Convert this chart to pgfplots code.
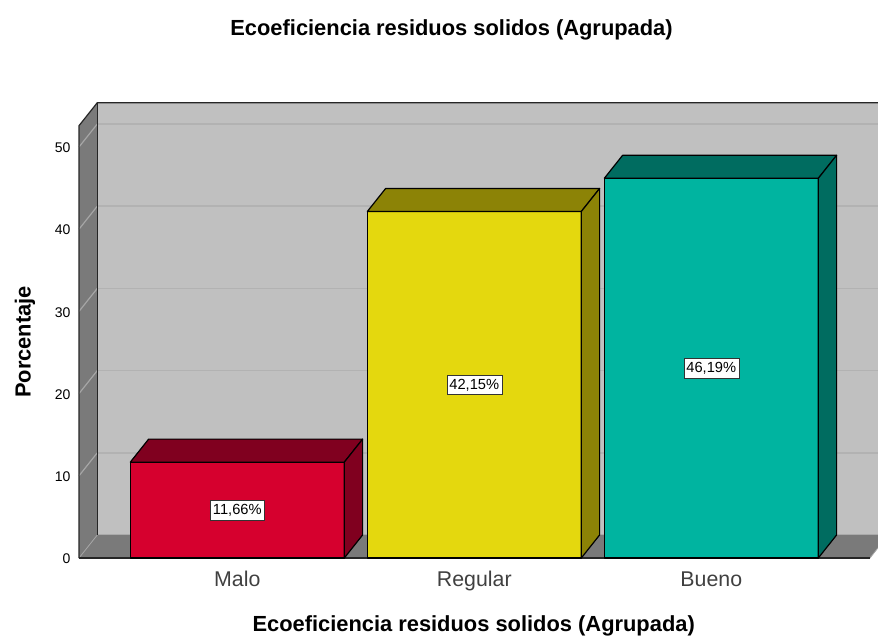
\documentclass[border=0pt]{standalone}
\usepackage{fontspec}
\setmainfont{Liberation Sans}
\usepackage{pgfplots}
\pgfplotsset{compat=1.18}
\usetikzlibrary{shadows}
\definecolor{wallc}{HTML}{C0C0C0}
\definecolor{sidec}{HTML}{7A7A7A}
\definecolor{gridb}{HTML}{B2B2B2}
\definecolor{grids}{HTML}{A6A6A6}
\definecolor{redf}{HTML}{D6002E}
\definecolor{redd}{HTML}{80001F}
\definecolor{yelf}{HTML}{E4D80E}
\definecolor{yeld}{HTML}{8C8306}
\definecolor{teaf}{HTML}{00B4A0}
\definecolor{tead}{HTML}{006C60}
\tikzset{lab/.style={draw=black!80,fill=white,inner xsep=2pt,inner ysep=2.6pt,text height=8pt,text depth=1.6pt,font=\fontsize{11}{13}\selectfont,
  copy shadow={shadow xshift=.6pt,shadow yshift=-.6pt,draw=none,fill=black!55}}}
\pgfplotsset{face/.style={draw=black,line width=.9pt,line join=round}}
\begin{document}
\begin{tikzpicture}
\path[use as bounding box] (-59.25pt,-58.5pt) rectangle (599.25pt,418.5pt);
\begin{axis}[
  scale only axis, width=599.25pt, height=341.48pt,
  xmin=79, xmax=878, ymin=0, ymax=55.39,
  clip=false,
  axis lines=left,
  axis line style={draw=none,-},
  tick style={draw=none},
  major tick length=0pt,
  xtick={237.3,474.3,711.3},
  xticklabels={Malo,Regular,Bueno},
  x tick label style={font=\fontsize{16}{18}\selectfont,text=black!75,text height=11.6pt,text depth=3.4pt,yshift=-6.5pt},
  ytick={0,10,20,30,40,50},
  y tick label style={font=\fontsize{10.5}{12}\selectfont,xshift=-2.9pt,yshift=-.7pt},
  /pgf/number format/assume math mode=true,
]
% back wall
\addplot[fill=wallc,draw=none] coordinates {(97.3,2.8) (97.3,55.39) (878,55.39) (878,2.8)} --cycle;
% back wall gridlines
\addplot[gridb,line width=1.1pt] coordinates {(97.3,2.8) (878,2.8)};
\addplot[gridb,line width=1.1pt] coordinates {(97.3,12.8) (878,12.8)};
\addplot[gridb,line width=1.1pt] coordinates {(97.3,22.8) (878,22.8)};
\addplot[gridb,line width=1.1pt] coordinates {(97.3,32.8) (878,32.8)};
\addplot[gridb,line width=1.1pt] coordinates {(97.3,42.8) (878,42.8)};
\addplot[gridb,line width=1.1pt] coordinates {(97.3,52.8) (878,52.8)};
% left wall
\addplot[fill=sidec,draw=none] coordinates {(79,0) (79,52.59) (97.3,55.39) (97.3,2.8)} --cycle;
\addplot[grids,line width=.9pt] coordinates {(79,10) (97.3,12.8)};
\addplot[grids,line width=.9pt] coordinates {(79,20) (97.3,22.8)};
\addplot[grids,line width=.9pt] coordinates {(79,30) (97.3,32.8)};
\addplot[grids,line width=.9pt] coordinates {(79,40) (97.3,42.8)};
\addplot[grids,line width=.9pt] coordinates {(79,50) (97.3,52.8)};
% floor
\addplot[fill=sidec,draw=none] coordinates {(79,0) (97.3,2.8) (878,2.8) (878,1.24) (870,0)} --cycle;
\addplot[grids,line width=.6pt] coordinates {(79,0) (97.3,2.8)};
\addplot[grids,line width=.6pt] coordinates {(870,0) (878,1.24)};
% wall outlines
\addplot[black!85,line width=.9pt,line join=round] coordinates {(79,0) (79,52.59) (97.3,55.39) (878,55.39)};
\addplot[black!85,line width=.9pt] coordinates {(97.3,2.8) (97.3,55.39)};
\addplot[black!85,line width=.9pt] coordinates {(79,0) (870,0)};
% Malo
\addplot[face,fill=redf] coordinates {(130.3,0) (130.3,11.66) (344.3,11.66) (344.3,0)} --cycle;
\addplot[face,fill=redd] coordinates {(130.3,11.66) (148.6,14.46) (362.6,14.46) (344.3,11.66)} --cycle;
\addplot[face,fill=redd] coordinates {(344.3,0) (344.3,11.66) (362.6,14.46) (362.6,2.8)} --cycle;
% Regular
\addplot[face,fill=yelf] coordinates {(367.3,0) (367.3,42.15) (581.3,42.15) (581.3,0)} --cycle;
\addplot[face,fill=yeld] coordinates {(367.3,42.15) (385.6,44.95) (599.6,44.95) (581.3,42.15)} --cycle;
\addplot[face,fill=yeld] coordinates {(581.3,0) (581.3,42.15) (599.6,44.95) (599.6,2.8)} --cycle;
% Bueno
\addplot[face,fill=teaf] coordinates {(604.3,0) (604.3,46.19) (818.3,46.19) (818.3,0)} --cycle;
\addplot[face,fill=tead] coordinates {(604.3,46.19) (622.6,48.99) (836.6,48.99) (818.3,46.19)} --cycle;
\addplot[face,fill=tead] coordinates {(818.3,0) (818.3,46.19) (836.6,48.99) (836.6,2.8)} --cycle;
% value labels
\node[lab] at (axis cs:237.3,5.83) {11,66\%};
\node[lab] at (axis cs:474.3,21.07) {42,15\%};
\node[lab] at (axis cs:711.3,23.09) {46,19\%};
\end{axis}
\node[font=\bfseries\fontsize{16.4}{19}\selectfont] at (279.4pt,396pt) {Ecoeficiencia residuos solidos (Agrupada)};
\node[font=\bfseries\fontsize{16.4}{19}\selectfont] at (296pt,-51pt) {Ecoeficiencia residuos solidos (Agrupada)};
\node[font=\bfseries\fontsize{16.4}{19}\selectfont,rotate=90] at (-40.5pt,162pt) {Porcentaje};
\end{tikzpicture}
\end{document}
